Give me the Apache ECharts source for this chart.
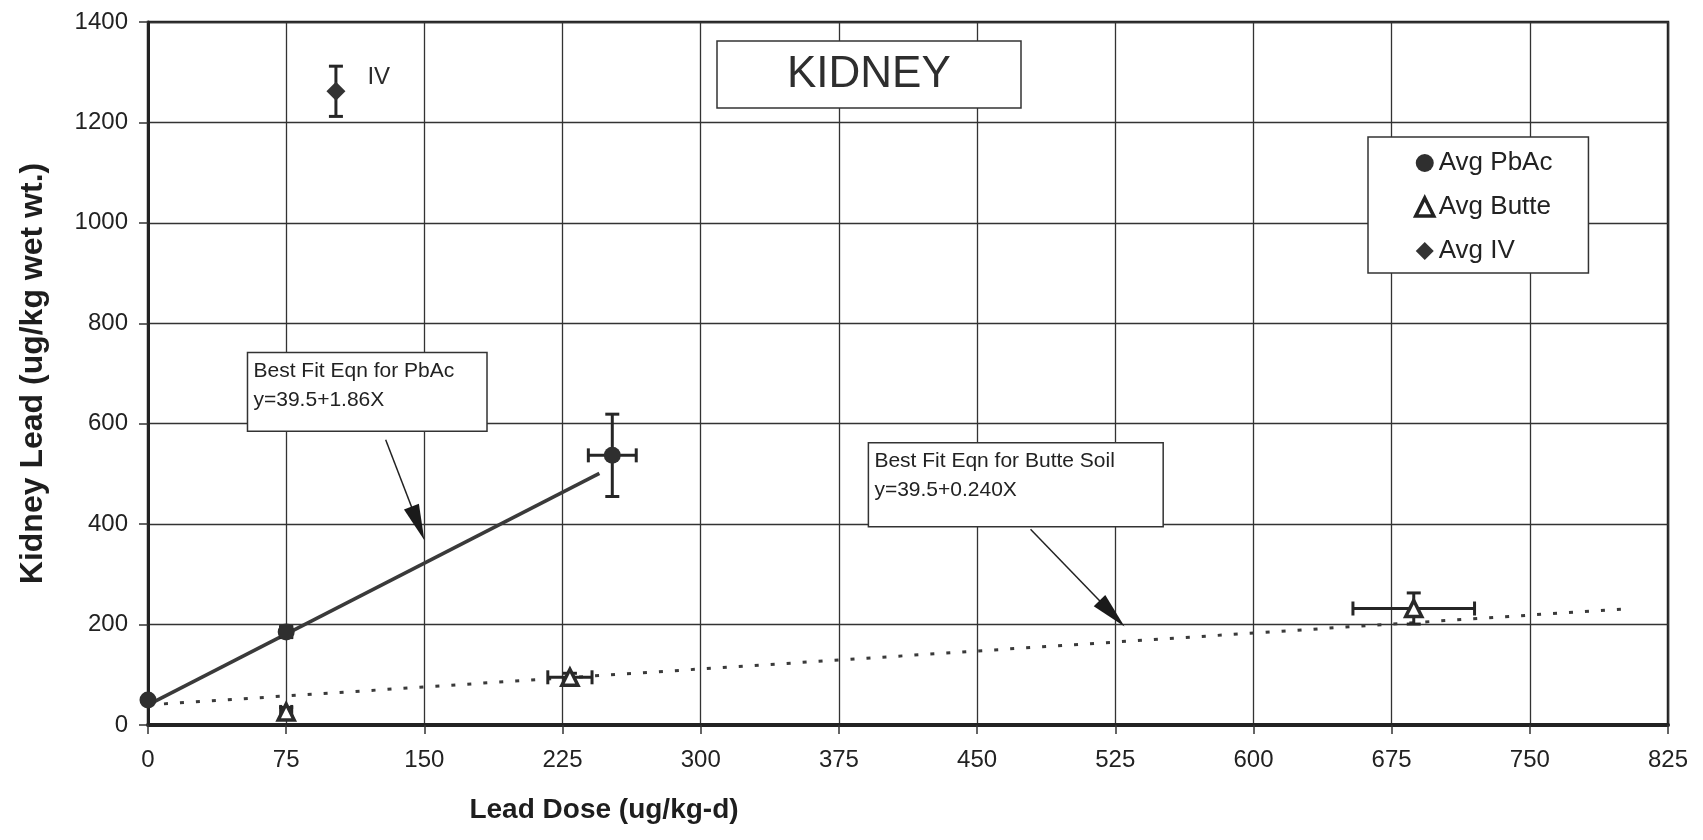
<!DOCTYPE html>
<html>
<head>
<meta charset="utf-8">
<script src="https://cdn.jsdelivr.net/npm/echarts@6/dist/echarts.min.js"></script>
<style>
html,body{margin:0;padding:0;background:#fff;}
#chart{width:1703px;height:840px;}
</style>
</head>
<body>
<div id="chart"></div>
<script>
// ---- data ----
const pbacX = [0, 75, 252];
const pbacY = [50, 185, 537];
const pbacXErr = [0, 3, 13];
const pbacYErr = [0, 10, 82];

const butteX = [75, 229, 687];
const butteY = [26, 95, 232];
const butteXErr = [3, 12, 33];
const butteYErr = [9, 8, 31];

const ivX = [102];
const ivY = [1262];
const ivXErr = [0];
const ivYErr = [50];

const pbacFit = [[0, 40], [245, 501]];
const butteFit = [[0, 40], [805, 232]];

const seriesNames = ['Avg PbAc', 'Avg Butte', 'Avg IV'];
const chartTitle = 'KIDNEY';
const xTitle = 'Lead Dose (ug/kg-d)';
const yTitle = 'Kidney Lead (ug/kg wet wt.)';
const ivLabel = 'IV';
const note1 = ['Best Fit Eqn for PbAc', 'y=39.5+1.86X'];
const note2 = ['Best Fit Eqn for Butte Soil', 'y=39.5+0.240X'];

// annotation anchors in data space: box corners, arrow start, arrow tip
const note1Box = [[54, 742], [184, 585]];
const note1Arrow = [[129, 568], [150, 368]];
const note2Box = [[391, 562], [551, 395]];
const note2Arrow = [[479, 390], [530, 196]];

const FONT = '"Liberation Sans", Arial, Helvetica, sans-serif';
const INK = '#262626';

function pts(xs, ys) { return xs.map((x, i) => [x, ys[i]]); }
function errs(xs, ys, xe, ye) { return xs.map((x, i) => [x, ys[i], xe[i], ye[i]]); }

function renderErr(params, api) {
  const x = api.value(0), y = api.value(1), xe = api.value(2), ye = api.value(3);
  const cap = 7;
  const st = { stroke: INK, lineWidth: 3 };
  const ch = [];
  if (ye > 0) {
    const t = api.coord([x, y + ye]), b = api.coord([x, y - ye]);
    ch.push({ type: 'line', shape: { x1: t[0], y1: t[1], x2: b[0], y2: b[1] }, style: st });
    ch.push({ type: 'line', shape: { x1: t[0] - cap, y1: t[1], x2: t[0] + cap, y2: t[1] }, style: st });
    ch.push({ type: 'line', shape: { x1: b[0] - cap, y1: b[1], x2: b[0] + cap, y2: b[1] }, style: st });
  }
  if (xe > 0) {
    const l = api.coord([x - xe, y]), r = api.coord([x + xe, y]);
    ch.push({ type: 'line', shape: { x1: l[0], y1: l[1], x2: r[0], y2: r[1] }, style: st });
    ch.push({ type: 'line', shape: { x1: l[0], y1: l[1] - cap, x2: l[0], y2: l[1] + cap }, style: st });
    ch.push({ type: 'line', shape: { x1: r[0], y1: r[1] - cap, x2: r[0], y2: r[1] + cap }, style: st });
  }
  return { type: 'group', children: ch };
}

const chart = echarts.init(document.getElementById('chart'), null, { renderer: 'canvas' });

const option = {
  backgroundColor: '#fff',
  animation: false,
  textStyle: { fontFamily: FONT },
  title: {
    text: chartTitle,
    left: 717, top: 41,
    padding: [9, 70, 9, 70],
    backgroundColor: '#fff',
    borderColor: '#333', borderWidth: 1.5,
    textStyle: { fontFamily: FONT, fontSize: 44, fontWeight: 'normal', color: '#2e2e2e', lineHeight: 49 }
  },
  legend: {
    data: [
      { name: seriesNames[0] },
      { name: seriesNames[1], itemStyle: { color: '#fff', borderColor: '#222', borderWidth: 3.5 } },
      { name: seriesNames[2] }
    ],
    orient: 'vertical',
    left: 1368, top: 137,
    padding: [13, 36, 9, 46],
    itemGap: 18,
    itemWidth: 18, itemHeight: 18,
    backgroundColor: '#fff',
    borderColor: '#333', borderWidth: 1.5,
    textStyle: { fontFamily: FONT, fontSize: 26, color: '#222', lineHeight: 26 }
  },
  grid: {
    left: 148, right: 35, top: 22, bottom: 115,
    show: true, borderColor: '#222', borderWidth: 2.5, backgroundColor: '#fff'
  },
  xAxis: {
    type: 'value', min: 0, max: 825, interval: 75,
    name: xTitle, nameLocation: 'middle', nameGap: 71,
    nameTextStyle: { fontFamily: FONT, fontSize: 28, fontWeight: 'bold', color: '#1e1e1e', padding: [0, 608, 0, 0] },
    axisLine: { show: true, onZero: false, lineStyle: { color: '#222', width: 4 } },
    axisTick: { show: true, inside: false, length: 9, lineStyle: { color: '#333', width: 1.5 } },
    axisLabel: { fontFamily: FONT, fontSize: 24, color: '#222', margin: 23 },
    splitLine: { show: true, lineStyle: { color: '#333', width: 1.3 } }
  },
  yAxis: {
    type: 'value', min: 0, max: 1400, interval: 200,
    name: yTitle, nameLocation: 'middle', nameGap: 99,
    nameTextStyle: { fontFamily: FONT, fontSize: 32, fontWeight: 'bold', color: '#1e1e1e' },
    axisLine: { show: true, onZero: false, lineStyle: { color: '#222', width: 3 } },
    axisTick: { show: true, inside: false, length: 9, lineStyle: { color: '#333', width: 1.5 } },
    axisLabel: { fontFamily: FONT, fontSize: 24, color: '#222', margin: 20, formatter: v => String(v) },
    splitLine: { show: true, lineStyle: { color: '#333', width: 1.3 } }
  },
  series: [
    {
      name: 'PbAc fit', type: 'line', data: pbacFit, symbol: 'none', z: 3,
      lineStyle: { color: '#3a3a3a', width: 3.5 }
    },
    {
      name: 'Butte fit', type: 'line', data: butteFit, symbol: 'none', z: 3,
      lineStyle: { color: '#3a3a3a', width: 3, type: [4, 12] }
    },
    {
      name: 'errors', type: 'custom', renderItem: renderErr, z: 4,
      encode: { x: 0, y: 1 },
      data: errs(pbacX, pbacY, pbacXErr, pbacYErr)
        .concat(errs(butteX, butteY, butteXErr, butteYErr))
        .concat(errs(ivX, ivY, ivXErr, ivYErr))
    },
    {
      name: seriesNames[0], type: 'scatter', data: pts(pbacX, pbacY), z: 5,
      symbol: 'circle', symbolSize: 17,
      itemStyle: { color: '#2f2f2f', opacity: 1 }
    },
    {
      name: seriesNames[1], type: 'scatter', data: pts(butteX, butteY), z: 5,
      symbol: 'triangle', symbolSize: 16,
      itemStyle: { color: '#fff', borderColor: '#2a2a2a', borderWidth: 3.5, opacity: 1 }
    },
    {
      name: seriesNames[2], type: 'scatter', data: pts(ivX, ivY), z: 5,
      symbol: 'diamond', symbolSize: 19,
      itemStyle: { color: '#333', opacity: 1 },
      label: {
        show: true, formatter: ivLabel, position: 'right', distance: 22, offset: [0, -14],
        fontFamily: FONT, fontSize: 24, color: '#2a2a2a'
      }
    }
  ]
};

chart.setOption(option);

function P(p) { return chart.convertToPixel({ gridIndex: 0 }, p); }

function noteBox(box, lines) {
  const a = P(box[0]), b = P(box[1]);
  return {
    type: 'group', z: 20,
    children: [
      { type: 'rect', shape: { x: a[0], y: a[1], width: b[0] - a[0], height: b[1] - a[1] },
        style: { fill: '#fff', stroke: '#333', lineWidth: 1.5 } },
      { type: 'text', x: a[0] + 6, y: a[1] + 4,
        style: { text: lines.join('\n'), font: '21px ' + FONT, fill: '#222', lineHeight: 29 } }
    ]
  };
}

function arrow(seg, lw) {
  const s = P(seg[0]), t = P(seg[1]);
  const dx = t[0] - s[0], dy = t[1] - s[1];
  const len = Math.sqrt(dx * dx + dy * dy);
  const ux = dx / len, uy = dy / len;
  const L = 36, W = 8;
  const bx = t[0] - ux * L, by = t[1] - uy * L;
  return {
    type: 'group', z: 21,
    children: [
      { type: 'line', shape: { x1: s[0], y1: s[1], x2: bx + ux * 4, y2: by + uy * 4 },
        style: { stroke: '#222', lineWidth: lw } },
      { type: 'polygon', shape: { points: [[t[0], t[1]], [bx - uy * W, by + ux * W], [bx + uy * W, by - ux * W]] },
        style: { fill: '#1a1a1a' } }
    ]
  };
}

chart.setOption({
  graphic: [
    noteBox(note1Box, note1),
    arrow(note1Arrow, 1.5),
    noteBox(note2Box, note2),
    arrow(note2Arrow, 1.5)
  ]
});
</script>
</body>
</html>
